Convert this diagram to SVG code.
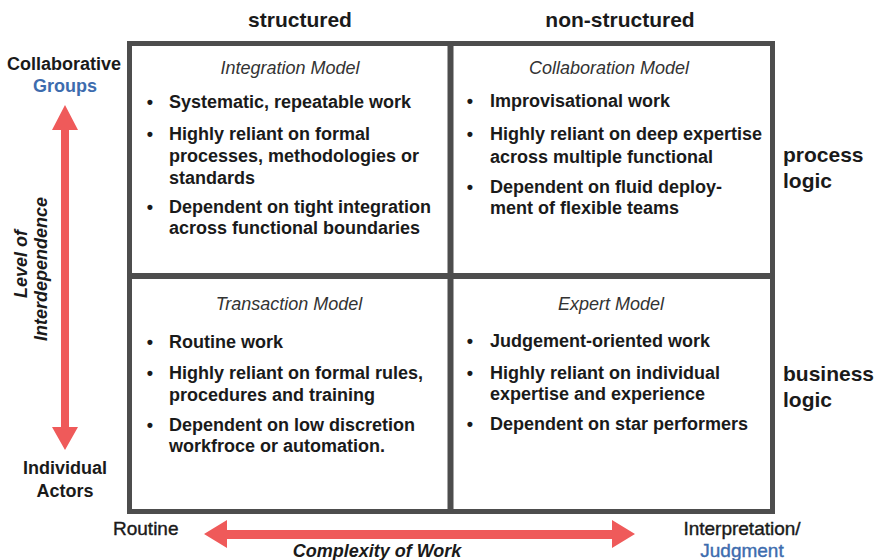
<svg xmlns="http://www.w3.org/2000/svg" width="882" height="560" viewBox="0 0 882 560">
<style>
text{font-family:"Liberation Sans",Arial,sans-serif;fill:#1a1a1a}
.h{font-size:21px;font-weight:bold}
.ax{font-size:18px;font-weight:bold}
.lab{font-size:19px;stroke:#1a1a1a;stroke-width:0.4}
.blue{fill:#3d6cae}
.lab.blue{stroke:#3d6cae}
.t{font-size:18px;font-style:italic;fill:#333}
.b{font-size:18px;font-weight:bold}
.arr{fill:#ef5a5a}
.frame{fill:none;stroke:#4d4d4d}
</style>
<rect width="882" height="560" fill="#fff"/>
<g id="frame">
<rect class="frame" x="129.5" y="43.5" width="643" height="468" stroke-width="5"/>
<line class="frame" x1="450.5" y1="43.5" x2="450.5" y2="511.5" stroke-width="6"/>
<line class="frame" x1="129.5" y1="276" x2="772.5" y2="276" stroke-width="6"/>
</g>
<g id="col-headers">
<text class="h" x="300" y="27" text-anchor="middle">structured</text>
<text class="h" x="620" y="27" text-anchor="middle">non-structured</text>
</g>
<g id="row-headers">
<text class="h" x="783" y="162">process</text>
<text class="h" x="783" y="188">logic</text>
<text class="h" x="783" y="381">business</text>
<text class="h" x="783" y="407">logic</text>
</g>
<g id="integration">
<text class="t" x="290" y="74" text-anchor="middle">Integration Model</text>
<text class="b" x="150" y="108" text-anchor="middle">•</text>
<text class="b" x="169" y="108">Systematic, repeatable work</text>
<text class="b" x="150" y="140" text-anchor="middle">•</text>
<text class="b" x="169" y="140">Highly reliant on formal</text>
<text class="b" x="169" y="162">processes, methodologies or</text>
<text class="b" x="169" y="184">standards</text>
<text class="b" x="150" y="213" text-anchor="middle">•</text>
<text class="b" x="169" y="213">Dependent on tight integration</text>
<text class="b" x="169" y="234">across functional boundaries</text>
</g>
<g id="collaboration">
<text class="t" x="609" y="74" text-anchor="middle">Collaboration Model</text>
<text class="b" x="470" y="107" text-anchor="middle">•</text>
<text class="b" x="490" y="107">Improvisational work</text>
<text class="b" x="470" y="140" text-anchor="middle">•</text>
<text class="b" x="490" y="140">Highly reliant on deep expertise</text>
<text class="b" x="490" y="163">across multiple functional</text>
<text class="b" x="470" y="193" text-anchor="middle">•</text>
<text class="b" x="490" y="193">Dependent on fluid deploy-</text>
<text class="b" x="490" y="214">ment of flexible teams</text>
</g>
<g id="transaction">
<text class="t" x="289" y="310" text-anchor="middle">Transaction Model</text>
<text class="b" x="150" y="348" text-anchor="middle">•</text>
<text class="b" x="169" y="348">Routine work</text>
<text class="b" x="150" y="379" text-anchor="middle">•</text>
<text class="b" x="169" y="379">Highly reliant on formal rules,</text>
<text class="b" x="169" y="401">procedures and training</text>
<text class="b" x="150" y="431" text-anchor="middle">•</text>
<text class="b" x="169" y="431">Dependent on low discretion</text>
<text class="b" x="169" y="452">workfroce or automation.</text>
</g>
<g id="expert">
<text class="t" x="611" y="310" text-anchor="middle">Expert Model</text>
<text class="b" x="470" y="347" text-anchor="middle">•</text>
<text class="b" x="490" y="347">Judgement-oriented work</text>
<text class="b" x="470" y="379" text-anchor="middle">•</text>
<text class="b" x="490" y="379">Highly reliant on individual</text>
<text class="b" x="490" y="400">expertise and experience</text>
<text class="b" x="470" y="430" text-anchor="middle">•</text>
<text class="b" x="490" y="430">Dependent on star performers</text>
</g>
<g id="connectors">
<polygon class="arr" points="65,105 52,130 61,130 61,427 52,427 65,450 78,427 69,427 69,130 78,130"/>
<polygon class="arr" points="204,534 227,520 227,530 612,530 612,520 635,534 612,548 612,539 227,539 227,548"/>
</g>
<g id="vertical-axis-labels">
<text class="ax" x="64" y="70" text-anchor="middle">Collaborative</text>
<text class="ax blue" x="65" y="92" text-anchor="middle">Groups</text>
<text class="ax" x="65" y="474" text-anchor="middle">Individual</text>
<text class="ax" x="65" y="497" text-anchor="middle">Actors</text>
<text class="ax" transform="translate(27,264) rotate(-90)" text-anchor="middle" font-style="italic">Level of</text>
<text class="ax" transform="translate(47,269) rotate(-90)" text-anchor="middle" font-style="italic">Interdependence</text>
</g>
<g id="horizontal-axis-labels">
<text class="lab" x="113" y="535">Routine</text>
<text class="lab" x="742" y="535" text-anchor="middle">Interpretation/</text>
<text class="lab blue" x="742" y="557" text-anchor="middle">Judgment</text>
<text class="ax" x="377" y="557" text-anchor="middle" font-style="italic">Complexity of Work</text>
</g>
</svg>
